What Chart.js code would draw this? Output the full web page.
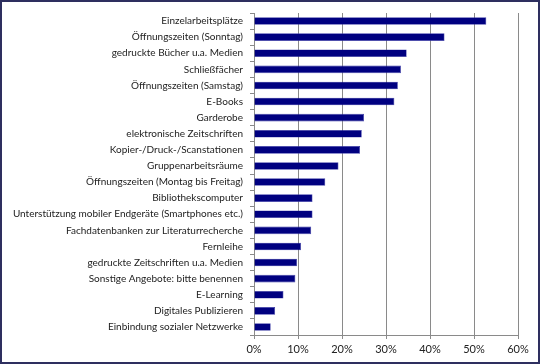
<!DOCTYPE html>
<html>
<head>
<meta charset="utf-8">
<script src="https://cdn.jsdelivr.net/npm/chart.js@4/dist/chart.umd.min.js"></script>
<style>
  html, body { margin: 0; padding: 0; background: #fff; }
  #wrap { width: 540px; height: 364px; position: relative; }
</style>
</head>
<body>
<div id="wrap"><canvas id="chart" width="540" height="364"></canvas></div>
<script>
// Angebote der Bibliothek, Anteil der Nennungen
const categories = [
  "Einzelarbeitsplätze",
  "Öffnungszeiten (Sonntag)",
  "gedruckte Bücher u.a. Medien",
  "Schließfächer",
  "Öffnungszeiten (Samstag)",
  "E-Books",
  "Garderobe",
  "elektronische Zeitschriften",
  "Kopier-/Druck-/Scanstationen",
  "Gruppenarbeitsräume",
  "Öffnungszeiten (Montag bis Freitag)",
  "Bibliothekscomputer",
  "Unterstützung mobiler Endgeräte (Smartphones etc.)",
  "Fachdatenbanken zur Literaturrecherche",
  "Fernleihe",
  "gedruckte Zeitschriften u.a. Medien",
  "Sonstige Angebote: bitte benennen",
  "E-Learning",
  "Digitales Publizieren",
  "Einbindung sozialer Netzwerke"
];
const shares = [52.8, 43.3, 34.7, 33.4, 32.7, 31.9, 25.0, 24.5, 24.1, 19.2,
                16.2, 13.3, 13.3, 13.0, 10.7, 9.8, 9.4, 6.7, 4.8, 3.8];
const xTicks = [0, 10, 20, 30, 40, 50, 60];

// white background + dark frame around the picture
const framePlugin = {
  id: 'frame',
  beforeDraw(chart) {
    const c = chart.ctx;
    c.save();
    c.fillStyle = '#ffffff';
    c.fillRect(0, 0, chart.width, chart.height);
    c.restore();
  },
  afterDraw(chart) {
    const c = chart.ctx;
    c.save();
    c.strokeStyle = '#2e2f5f';
    c.lineWidth = 2;
    c.strokeRect(1, 1, chart.width - 2, chart.height - 2);
    c.restore();
  }
};

new Chart(document.getElementById('chart'), {
  type: 'bar',
  data: {
    labels: categories,
    datasets: [{
      data: shares,
      backgroundColor: '#000080',
      borderColor: '#3a3aa8',
      borderWidth: 0.6,
      barPercentage: 0.47,
      categoryPercentage: 1
    }]
  },
  plugins: [framePlugin],
  options: {
    indexAxis: 'y',
    responsive: false,
    animation: false,
    layout: { padding: { top: 12, right: 22, bottom: 0, left: 0 } },
    plugins: { legend: { display: false }, tooltip: { enabled: false } },
    scales: {
      x: {
        min: 0,
        max: 60,
        afterBuildTicks(scale) { scale.ticks = xTicks.map(v => ({ value: v })); },
        afterFit(scale) { scale.height = 29; },
        grid: { color: '#8a8a8a', lineWidth: 1, tickLength: 4, tickColor: '#8a8a8a' },
        border: { color: '#8a8a8a' },
        ticks: {
          color: '#222',
          font: { family: 'Lato', size: 11 },
          padding: 4,
          callback: v => v + '%'
        }
      },
      y: {
        afterFit(scale) { scale.width = 254; },
        grid: { offset: true, drawOnChartArea: false, tickLength: 4, tickColor: '#8a8a8a' },
        border: { color: '#8a8a8a' },
        ticks: {
          color: '#222',
          autoSkip: false,
          font: { family: 'Lato', size: 10 },
          padding: 7
        }
      }
    }
  }
});
</script>
</body>
</html>
